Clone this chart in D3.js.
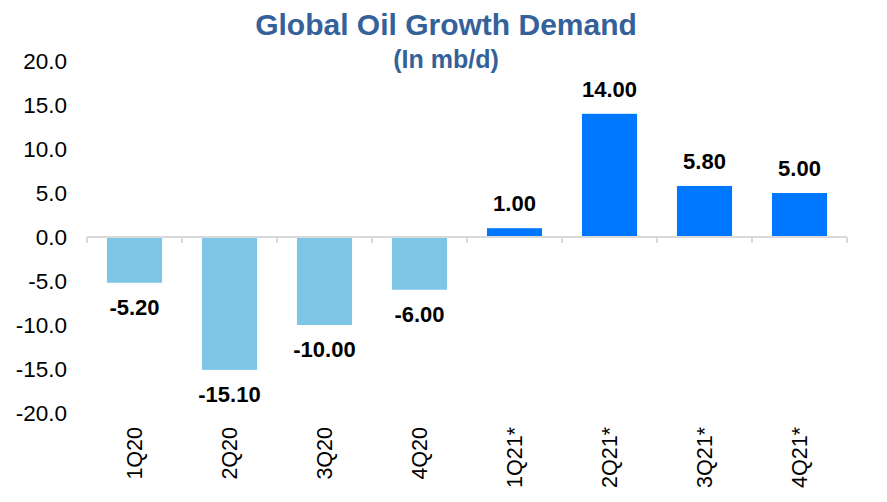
<!DOCTYPE html>
<html>
<head>
<meta charset="utf-8">
<script src="https://cdn.jsdelivr.net/npm/d3@7"></script>
<style>
  body { margin: 0; background: #fff; }
  svg { display: block; font-family: Arial, "Liberation Sans", sans-serif; }
</style>
</head>
<body>
<div id="chart"></div>
<script>
// chart data
var quarters = ["1Q20", "2Q20", "3Q20", "4Q20", "1Q21*", "2Q21*", "3Q21*", "4Q21*"];
var demand = [-5.2, -15.1, -10.0, -6.0, 1.0, 14.0, 5.8, 5.0];
var yTicks = [-20, -15, -10, -5, 0, 5, 10, 15, 20];

var width = 887, height = 502;

var svg = d3.select("#chart").append("svg")
    .attr("width", width)
    .attr("height", height);

var x = d3.scaleBand()
    .domain(quarters)
    .range([87, 847])
    .paddingInner(0.42)
    .paddingOuter(0.21);

var y = d3.scaleLinear()
    .domain([-20, 20])
    .range([413, 61]);

// title
svg.append("text")
    .attr("x", 446).attr("y", 35)
    .attr("text-anchor", "middle")
    .style("font-size", "30px").style("font-weight", "bold")
    .style("fill", "#35619A")
    .text("Global Oil Growth Demand");

svg.append("text")
    .attr("x", 446).attr("y", 68)
    .attr("text-anchor", "middle")
    .style("font-size", "25px").style("font-weight", "bold")
    .style("fill", "#35619A")
    .text("(In mb/d)");

// y labels (no axis line)
svg.selectAll(".ylab")
    .data(yTicks)
  .enter().append("text")
    .attr("class", "ylab")
    .attr("x", 67)
    .attr("y", function(d) { return y(d); })
    .attr("dy", "0.35em")
    .attr("text-anchor", "end")
    .style("font-size", "22.5px")
    .style("fill", "#000")
    .text(function(d) { return d.toFixed(1); });

// bars
svg.selectAll(".bar")
    .data(demand)
  .enter().append("rect")
    .attr("class", "bar")
    .attr("x", function(d, i) { return x(quarters[i]); })
    .attr("width", x.bandwidth())
    .attr("y", function(d) { return y(Math.max(0, d)); })
    .attr("height", function(d) { return Math.abs(y(d) - y(0)); })
    .style("fill", function(d) { return d < 0 ? "#7EC6E6" : "#0077FF"; });

// zero line with ticks at band edges
var edges = quarters.map(function(q) { return x(q) - x.step() * x.paddingOuter(); });
edges.push(847);

svg.append("line")
    .attr("x1", 87).attr("x2", 847)
    .attr("y1", y(0)).attr("y2", y(0))
    .style("stroke", "#D9D9D9").style("stroke-width", 2);

svg.selectAll(".tick")
    .data(edges)
  .enter().append("line")
    .attr("class", "tick")
    .attr("x1", function(d) { return d; }).attr("x2", function(d) { return d; })
    .attr("y1", y(0)).attr("y2", y(0) + 6)
    .style("stroke", "#D9D9D9").style("stroke-width", 2);

// value labels
svg.selectAll(".val")
    .data(demand)
  .enter().append("text")
    .attr("class", "val")
    .attr("x", function(d, i) { return x(quarters[i]) + x.bandwidth() / 2; })
    .attr("y", function(d) { return d < 0 ? y(d) + 32 : y(d) - 17; })
    .attr("text-anchor", "middle")
    .style("font-size", "22px").style("font-weight", "bold")
    .style("fill", "#000")
    .text(function(d) { return d.toFixed(2); });

// category labels, rotated
svg.selectAll(".xlab")
    .data(quarters)
  .enter().append("text")
    .attr("class", "xlab")
    .attr("transform", function(d) {
      return "translate(" + (x(d) + x.bandwidth() / 2) + ",427) rotate(-90)";
    })
    .attr("dy", "0.35em")
    .attr("text-anchor", "end")
    .style("font-size", "21.5px")
    .style("fill", "#000")
    .text(function(d) { return d; });
</script>
</body>
</html>
